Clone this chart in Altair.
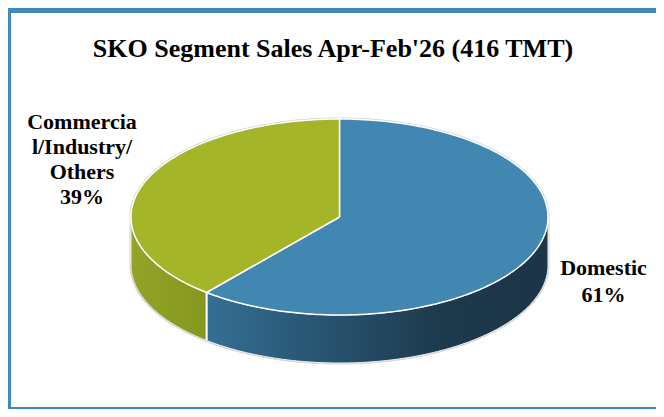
import numpy as np
import pandas as pd
import altair as alt

# ---- data ----
categories = ["Domestic", "Commercial/Industry/Others"]
shares = [61, 39]
label_texts = ["Domestic\n61%", "Commercia\nl/Industry/\nOthers\n39%"]
title_text = "SKO Segment Sales Apr-Feb'26 (416 TMT)"

top_colors = {"Domestic": "#4187b1", "Commercial/Industry/Others": "#a5b52a"}
side_gradients = {
    "Domestic": [("#356f94", 0.0), ("#27536f", 0.35), ("#1d394c", 0.7), ("#1c3547", 1.0)],
    "Commercial/Industry/Others": [("#93a428", 0.0), ("#85971f", 1.0)],
}

# ---- layout (pixels inside the 648x401 svg) ----
W, H = 648, 401
CX, CY, R = 331.5, 209.0, 208.5   # centre and horizontal radius of the pie top
RY = 98.0 / R                     # vertical squash of the tilted top
DEPTH = 48.0 / R                  # thickness of the 3-D side
xdom = [-CX / R, (W - CX) / R]
ydom = [-(H - CY) / R, CY / R]

# ---- pie geometry derived from the shares (clockwise from 12 o'clock) ----
total = float(sum(shares))
rows = []


def add(piece, xs, ys):
    for i, (x, y) in enumerate(zip(xs, ys)):
        rows.append({"piece": piece, "i": i, "x": float(x), "y": float(y)})


def arc(a0, a1, n=160):
    t = np.radians(np.linspace(a0, a1, n))
    return np.sin(t), RY * np.cos(t)


start = 0.0
bounds = []
for cat, v in zip(categories, shares):
    end = start + 360.0 * v / total
    bounds.append((cat, start, end))
    start = end

# silhouette (shadow outline)
ax, ay = arc(0, 180)
bx, by = arc(180, 360)
add("silhouette",
    np.concatenate([ax, bx[:0], arc(90, 270)[0][::-1][:0]]), np.concatenate([ay, by[:0], []]))
rows = [r for r in rows if r["piece"] != "silhouette"]
sx_top, sy_top = arc(-90, 90)
sx_bot, sy_bot = arc(90, 270)
add("silhouette",
    np.concatenate([sx_top, sx_bot, sx_top[:1]]),
    np.concatenate([sy_top, sy_bot - DEPTH, sy_top[:1]]))

for cat, a0, a1 in bounds:
    s0, s1 = max(a0, 90.0), min(a1, 270.0)
    if s1 > s0:
        tx, ty = arc(s0, s1)
        add("side " + cat,
            np.concatenate([tx, tx[::-1], tx[:1]]),
            np.concatenate([ty, ty[::-1] - DEPTH, ty[:1]]))
    px, py = arc(a0, a1)
    add("top " + cat,
        np.concatenate([[0.0], px, [0.0]]),
        np.concatenate([[0.0], py, [0.0]]))

# vertical edges where a slice boundary lies on the visible front
for cat, a0, a1 in bounds:
    for a in (a0,):
        if 90.0 < a < 270.0:
            ex, ey = arc(a, a, 1)
            add("edge " + cat, [ex[0], ex[0]], [ey[0], ey[0] - DEPTH])

geo = pd.DataFrame(rows)

X = alt.X("x:Q", scale=alt.Scale(domain=xdom, nice=False, zero=False), axis=None)
Y = alt.Y("y:Q", scale=alt.Scale(domain=ydom, nice=False, zero=False), axis=None)
base = alt.Chart(geo)


def poly(piece, fill, stroke, sw):
    kw = dict(stroke=stroke, strokeWidth=sw, strokeJoin="round")
    if fill is not None:
        kw["fill"] = fill
    return base.transform_filter(alt.datum.piece == piece).mark_line(**kw).encode(
        x=X, y=Y, order=alt.Order("i:Q"))


def grad(stops):
    return alt.LinearGradient(
        gradient="linear", x1=0, x2=1, y1=0, y2=0,
        stops=[alt.GradientStop(color=c, offset=o) for c, o in stops])


layers = [poly("silhouette", None, "#d4d4d4", 3)]
for cat, a0, a1 in bounds:
    if max(a0, 90.0) < min(a1, 270.0):
        layers.append(poly("side " + cat, grad(side_gradients[cat]), "#f2f2f2", 1))
for cat, a0, a1 in bounds:
    if 90.0 < a0 < 270.0:
        layers.append(poly("edge " + cat, None, "#ffffff", 2))
for cat, a0, a1 in bounds:
    layers.append(poly("top " + cat, top_colors[cat], "#ffffff", 1.5))

# ---- texts ----
FONT = "Liberation Serif"
title = alt.Chart(pd.DataFrame({"t": [title_text]})).mark_text(
    font=FONT, fontSize=26, fontWeight="bold", color="#000000",
    align="center", baseline="alphabetic").encode(
    text="t:N", x=alt.value(325), y=alt.value(49))

lab_right = alt.Chart(pd.DataFrame({"t": [label_texts[0]]})).mark_text(
    font=FONT, fontSize=22, fontWeight="bold", color="#000000", lineBreak="\n",
    lineHeight=27, align="center", baseline="alphabetic").encode(
    text="t:N", x=alt.value(595.5), y=alt.value(267))

lab_left = alt.Chart(pd.DataFrame({"t": [label_texts[1]]})).mark_text(
    font=FONT, fontSize=22, fontWeight="bold", color="#000000", lineBreak="\n",
    lineHeight=25, align="center", baseline="alphabetic").encode(
    text="t:N", x=alt.value(74), y=alt.value(121))

# ---- frame ----
frame_col = "#4189b9"
frame = [
    alt.Chart(geo).mark_rule(color=frame_col, strokeWidth=5).encode(
        x=alt.value(0), x2=alt.value(W), y=alt.value(2.5)),
    alt.Chart(geo).mark_rule(color=frame_col, strokeWidth=3).encode(
        x=alt.value(1), y=alt.value(0), y2=alt.value(H)),
    alt.Chart(geo).mark_rule(color=frame_col, strokeWidth=2).encode(
        x=alt.value(0), x2=alt.value(W), y=alt.value(H - 1)),
]

chart = alt.layer(*layers, title, lab_left, lab_right, *frame).properties(
    width=W, height=H, padding=0,
    autosize=alt.AutoSizeParams(type="none"),
).configure_view(stroke=None).configure(background="#ffffff")

chart.save("out.html", embed_options={"renderer": "svg", "actions": False})
